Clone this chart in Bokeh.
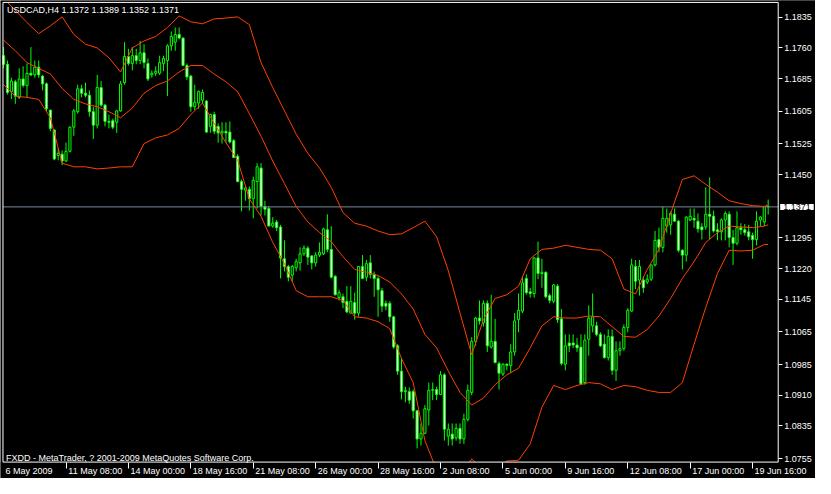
from bokeh.plotting import figure
from bokeh.models import (ColumnDataSource, FixedTicker, PrintfTickFormatter,
                          CustomJSTickFormatter, Label, LinearAxis)
from bokeh.embed import file_html
from bokeh.resources import INLINE

# ---------------- data ----------------
title_text = "USDCAD,H4  1.1372 1.1389 1.1352 1.1371"
footer_text = "FXDD - MetaTrader, ? 2001-2009 MetaQuotes Software Corp."
last_price = 1.1371

opens = [
    1.1741, 1.1720, 1.1653, 1.1677, 1.1639, 1.1684, 1.1668, 1.1698, 1.1694, 1.1713,
    1.1691, 1.1672, 1.1608, 1.1559, 1.1497, 1.1500, 1.1483, 1.1507, 1.1566, 1.1604,
    1.1660, 1.1649, 1.1644, 1.1604, 1.1571, 1.1663, 1.1620, 1.1580, 1.1582, 1.1578,
    1.1606, 1.1675, 1.1739, 1.1722, 1.1741, 1.1729, 1.1748, 1.1722, 1.1694, 1.1698,
    1.1698, 1.1722, 1.1729, 1.1765, 1.1774, 1.1793, 1.1784, 1.1717, 1.1691, 1.1616,
    1.1625, 1.1632, 1.1630, 1.1568, 1.1597, 1.1568, 1.1552, 1.1556, 1.1554, 1.1533,
    1.1495, 1.1433, 1.1412, 1.1414, 1.1391, 1.1433, 1.1466, 1.1372, 1.1367, 1.1324,
    1.1334, 1.1322, 1.1244, 1.1225, 1.1204, 1.1222, 1.1234, 1.1256, 1.1270, 1.1251,
    1.1234, 1.1253, 1.1256, 1.1315, 1.1267, 1.1201, 1.1149, 1.1151, 1.1140, 1.1111,
    1.1137, 1.1111, 1.1225, 1.1199, 1.1234, 1.1206, 1.1196, 1.1166, 1.1135, 1.1135,
    1.1102, 1.1031, 1.0969, 1.0919, 1.0919, 1.0919, 1.0872, 1.0803, 1.0817, 1.0874,
    1.0922, 1.0924, 1.0912, 1.0960, 1.0810, 1.0815, 1.0806, 1.0829, 1.0803, 1.0851,
    1.0917, 1.1042, 1.1099, 1.1087, 1.1135, 1.1028, 1.1042, 1.0988, 1.0962, 1.0986,
    1.0983, 1.1016, 1.1095, 1.1116, 1.1196, 1.1163, 1.1159, 1.1246, 1.1208, 1.1211,
    1.1154, 1.1140, 1.1177, 1.1097, 1.0986, 1.1038, 1.1038, 1.1033, 1.1028, 1.0941,
    1.1047, 1.1080, 1.1080, 1.1059, 1.1035, 1.1002, 1.1054, 1.0971, 1.1019, 1.1024,
    1.1076, 1.1116, 1.1225, 1.1192, 1.1192, 1.1187, 1.1194, 1.1229, 1.1291, 1.1272,
    1.1324, 1.1327, 1.1353, 1.1336, 1.1265, 1.1253, 1.1339, 1.1343, 1.1336, 1.1322,
    1.1322, 1.1353, 1.1348, 1.1315, 1.1310, 1.1339, 1.1353, 1.1296, 1.1282, 1.1320,
    1.1315, 1.1310, 1.1301, 1.1291, 1.1339, 1.1334, 1.1372,
]
highs = [
    1.1762, 1.1729, 1.1687, 1.1682, 1.1710, 1.1715, 1.1722, 1.1762, 1.1729, 1.1729,
    1.1694, 1.1675, 1.1608, 1.1561, 1.1514, 1.1509, 1.1528, 1.1568, 1.1611, 1.1670,
    1.1670, 1.1675, 1.1656, 1.1616, 1.1694, 1.1679, 1.1623, 1.1597, 1.1587, 1.1608,
    1.1679, 1.1774, 1.1758, 1.1762, 1.1758, 1.1777, 1.1769, 1.1734, 1.1705, 1.1715,
    1.1741, 1.1741, 1.1769, 1.1800, 1.1810, 1.1810, 1.1786, 1.1722, 1.1694, 1.1670,
    1.1656, 1.1658, 1.1632, 1.1599, 1.1604, 1.1575, 1.1578, 1.1578, 1.1580, 1.1537,
    1.1500, 1.1438, 1.1421, 1.1421, 1.1445, 1.1478, 1.1478, 1.1386, 1.1372, 1.1346,
    1.1339, 1.1327, 1.1289, 1.1229, 1.1229, 1.1244, 1.1272, 1.1277, 1.1275, 1.1253,
    1.1260, 1.1284, 1.1320, 1.1353, 1.1324, 1.1204, 1.1168, 1.1159, 1.1177, 1.1177,
    1.1161, 1.1225, 1.1253, 1.1241, 1.1253, 1.1213, 1.1201, 1.1173, 1.1142, 1.1140,
    1.1104, 1.1035, 1.1002, 1.0931, 1.0929, 1.0924, 1.0874, 1.0841, 1.0886, 1.0941,
    1.0941, 1.0931, 1.0969, 1.0964, 1.0841, 1.0841, 1.0841, 1.0841, 1.0865, 1.0936,
    1.1052, 1.1102, 1.1142, 1.1142, 1.1142, 1.1156, 1.1097, 1.0993, 1.0988, 1.0988,
    1.1035, 1.1111, 1.1159, 1.1201, 1.1206, 1.1173, 1.1248, 1.1286, 1.1244, 1.1213,
    1.1159, 1.1182, 1.1182, 1.1121, 1.1059, 1.1059, 1.1059, 1.1050, 1.1059, 1.1059,
    1.1130, 1.1159, 1.1090, 1.1064, 1.1059, 1.1071, 1.1071, 1.1042, 1.1042, 1.1083,
    1.1123, 1.1244, 1.1241, 1.1241, 1.1201, 1.1206, 1.1229, 1.1312, 1.1320, 1.1372,
    1.1367, 1.1360, 1.1367, 1.1339, 1.1267, 1.1348, 1.1367, 1.1367, 1.1355, 1.1331,
    1.1419, 1.1443, 1.1362, 1.1331, 1.1343, 1.1360, 1.1360, 1.1315, 1.1360, 1.1331,
    1.1329, 1.1327, 1.1308, 1.1360, 1.1348, 1.1372, 1.1389,
]
lows = [
    1.1710, 1.1646, 1.1635, 1.1623, 1.1635, 1.1663, 1.1639, 1.1691, 1.1687, 1.1687,
    1.1656, 1.1604, 1.1556, 1.1485, 1.1485, 1.1473, 1.1481, 1.1504, 1.1545, 1.1599,
    1.1639, 1.1639, 1.1592, 1.1537, 1.1563, 1.1616, 1.1568, 1.1563, 1.1561, 1.1552,
    1.1604, 1.1670, 1.1717, 1.1705, 1.1720, 1.1720, 1.1710, 1.1679, 1.1687, 1.1691,
    1.1694, 1.1703, 1.1642, 1.1753, 1.1753, 1.1781, 1.1715, 1.1682, 1.1604, 1.1608,
    1.1611, 1.1623, 1.1552, 1.1552, 1.1549, 1.1528, 1.1526, 1.1528, 1.1526, 1.1490,
    1.1431, 1.1360, 1.1386, 1.1362, 1.1343, 1.1367, 1.1350, 1.1350, 1.1324, 1.1320,
    1.1312, 1.1196, 1.1213, 1.1189, 1.1189, 1.1213, 1.1215, 1.1251, 1.1229, 1.1218,
    1.1225, 1.1248, 1.1253, 1.1260, 1.1196, 1.1154, 1.1142, 1.1123, 1.1111, 1.1111,
    1.1095, 1.1102, 1.1194, 1.1189, 1.1196, 1.1151, 1.1102, 1.1114, 1.1118, 1.1090,
    1.1024, 1.0960, 1.0900, 1.0893, 1.0889, 1.0853, 1.0780, 1.0787, 1.0815, 1.0836,
    1.0898, 1.0898, 1.0910, 1.0799, 1.0787, 1.0787, 1.0799, 1.0791, 1.0791, 1.0846,
    1.0910, 1.1031, 1.1083, 1.1078, 1.1016, 1.1024, 1.0988, 1.0924, 1.0957, 1.0971,
    1.0964, 1.1007, 1.1064, 1.1111, 1.1156, 1.1149, 1.1149, 1.1194, 1.1173, 1.1147,
    1.1135, 1.1135, 1.1087, 1.0983, 1.0971, 1.1016, 1.1026, 1.1016, 1.0936, 1.0936,
    1.1007, 1.1064, 1.1054, 1.1028, 1.1000, 1.0995, 1.0960, 1.0945, 1.1007, 1.1019,
    1.1064, 1.1114, 1.1170, 1.1154, 1.1161, 1.1182, 1.1189, 1.1225, 1.1260, 1.1260,
    1.1308, 1.1303, 1.1336, 1.1260, 1.1218, 1.1237, 1.1336, 1.1320, 1.1308, 1.1291,
    1.1315, 1.1291, 1.1308, 1.1289, 1.1289, 1.1289, 1.1272, 1.1229, 1.1277, 1.1303,
    1.1301, 1.1289, 1.1244, 1.1277, 1.1324, 1.1324, 1.1352,
]
closes = [
    1.1720, 1.1651, 1.1679, 1.1642, 1.1684, 1.1668, 1.1698, 1.1694, 1.1713, 1.1694,
    1.1672, 1.1611, 1.1563, 1.1488, 1.1502, 1.1483, 1.1507, 1.1566, 1.1606, 1.1660,
    1.1649, 1.1644, 1.1604, 1.1571, 1.1663, 1.1620, 1.1580, 1.1578, 1.1566, 1.1606,
    1.1672, 1.1739, 1.1722, 1.1741, 1.1729, 1.1748, 1.1724, 1.1684, 1.1698, 1.1703,
    1.1724, 1.1734, 1.1765, 1.1788, 1.1793, 1.1784, 1.1717, 1.1689, 1.1616, 1.1627,
    1.1653, 1.1651, 1.1554, 1.1597, 1.1556, 1.1552, 1.1556, 1.1552, 1.1530, 1.1492,
    1.1433, 1.1414, 1.1417, 1.1391, 1.1436, 1.1469, 1.1372, 1.1365, 1.1324, 1.1331,
    1.1320, 1.1246, 1.1225, 1.1199, 1.1225, 1.1237, 1.1256, 1.1270, 1.1248, 1.1234,
    1.1253, 1.1260, 1.1317, 1.1267, 1.1199, 1.1156, 1.1161, 1.1137, 1.1114, 1.1140,
    1.1111, 1.1225, 1.1196, 1.1232, 1.1206, 1.1196, 1.1168, 1.1128, 1.1128, 1.1102,
    1.1028, 1.0969, 1.0919, 1.0922, 1.0898, 1.0872, 1.0803, 1.0817, 1.0877, 1.0922,
    1.0924, 1.0912, 1.0960, 1.0827, 1.0827, 1.0803, 1.0829, 1.0803, 1.0851, 1.0922,
    1.1042, 1.1099, 1.1092, 1.1135, 1.1031, 1.1042, 1.0990, 1.0964, 1.0986, 1.0983,
    1.1016, 1.1092, 1.1118, 1.1185, 1.1161, 1.1159, 1.1246, 1.1208, 1.1211, 1.1151,
    1.1142, 1.1180, 1.1095, 1.0988, 1.1031, 1.1031, 1.1033, 1.1026, 1.0938, 1.1045,
    1.1099, 1.1102, 1.1059, 1.1031, 1.1002, 1.1054, 1.0971, 1.1019, 1.1024, 1.1076,
    1.1118, 1.1229, 1.1189, 1.1225, 1.1173, 1.1194, 1.1229, 1.1289, 1.1272, 1.1343,
    1.1343, 1.1355, 1.1336, 1.1265, 1.1253, 1.1346, 1.1348, 1.1339, 1.1317, 1.1315,
    1.1353, 1.1348, 1.1312, 1.1310, 1.1339, 1.1355, 1.1296, 1.1282, 1.1320, 1.1315,
    1.1308, 1.1298, 1.1291, 1.1336, 1.1346, 1.1372, 1.1371,
]

# Bollinger bands, read every third bar (plus the last bar)
band_index = list(range(0, 196, 3)) + [196]
band_upper = [
    1.1881, 1.1852, 1.1822, 1.1795, 1.1814, 1.1836, 1.1793, 1.1769, 1.1760, 1.1736,
    1.1701, 1.1760, 1.1777, 1.1788, 1.1810, 1.1838, 1.1824, 1.1819, 1.1831, 1.1833,
    1.1836, 1.1817, 1.1724, 1.1663, 1.1606, 1.1549, 1.1502, 1.1466, 1.1419, 1.1357,
    1.1331, 1.1324, 1.1312, 1.1303, 1.1305, 1.1320, 1.1336, 1.1298, 1.1215, 1.1111,
    1.1009, 1.1095, 1.1147, 1.1156, 1.1177, 1.1244, 1.1267, 1.1270, 1.1277, 1.1272,
    1.1267, 1.1265, 1.1244, 1.1170, 1.1158, 1.1218, 1.1267, 1.1355, 1.1438, 1.1447,
    1.1426, 1.1407, 1.1386, 1.1379, 1.1374, 1.1372, 1.1376,
]
band_middle = [
    1.1779, 1.1753, 1.1724, 1.1710, 1.1696, 1.1661, 1.1634, 1.1623, 1.1616, 1.1604,
    1.1589, 1.1613, 1.1649, 1.1668, 1.1679, 1.1701, 1.1717, 1.1717, 1.1696, 1.1677,
    1.1653, 1.1599, 1.1544, 1.1483, 1.1428, 1.1372, 1.1334, 1.1308, 1.1286, 1.1249,
    1.1218, 1.1211, 1.1203, 1.1187, 1.1158, 1.1121, 1.1059, 1.1026, 1.0969, 1.0917,
    1.0886, 1.0903, 1.0936, 1.0960, 1.0976, 1.1026, 1.1080, 1.1102, 1.1099, 1.1099,
    1.1104, 1.1102, 1.1078, 1.1054, 1.1052, 1.1071, 1.1104, 1.1147, 1.1196, 1.1237,
    1.1284, 1.1308, 1.1324, 1.1322, 1.1320, 1.1324, 1.1327,
]
band_lower = [
    1.1670, 1.1642, 1.1639, 1.1634, 1.1589, 1.1478, 1.1469, 1.1469, 1.1464, 1.1466,
    1.1469, 1.1469, 1.1526, 1.1540, 1.1547, 1.1563, 1.1597, 1.1625, 1.1575, 1.1528,
    1.1485, 1.1391, 1.1348, 1.1284, 1.1232, 1.1166, 1.1151, 1.1151, 1.1151, 1.1142,
    1.1102, 1.1099, 1.1090, 1.1073, 1.1000, 1.0941, 1.0799, 1.0727, 1.0704, 1.0711,
    1.0754, 1.0727, 1.0730, 1.0749, 1.0751, 1.0791, 1.0881, 1.0934, 1.0924, 1.0934,
    1.0941, 1.0938, 1.0924, 1.0934, 1.0931, 1.0922, 1.0917, 1.0917, 1.0941, 1.1035,
    1.1125, 1.1208, 1.1265, 1.1263, 1.1265, 1.1279, 1.1279,
]

price_ticks = [1.1835, 1.1760, 1.1685, 1.1605, 1.1525, 1.1450, 1.1295,
               1.1220, 1.1145, 1.1065, 1.0985, 1.0910, 1.0835, 1.0755]
time_ticks = [0, 16, 32, 48, 64, 80, 96, 112, 128, 144, 160, 176, 192]
time_labels = ["6 May 2009", "11 May 08:00", "14 May 00:00", "18 May 16:00",
               "21 May 08:00", "26 May 00:00", "28 May 16:00", "2 Jun 08:00",
               "5 Jun 00:00", "9 Jun 16:00", "12 Jun 08:00", "17 Jun 00:00",
               "19 Jun 16:00"]

# ---------------- layout / style ----------------
BG = "black"
FG = "white"
CANDLE = "#00ff00"
BAND = "#ff4000"
BIDLINE = "#778899"
FONT = "Liberation Sans"
FS = "9px"
FS_PX = 9

W, H = 815, 478
PX_PER_BAR = 3.901
# whole-canvas data window
XL, XR = -0.792, -0.792 + W / PX_PER_BAR
YT = 1.1876
YB = YT - H * 0.0002447
# chart border (inside the window)
X0, X1 = -0.16, 198.57
Y0, Y1 = 1.07465, 1.18713

p = figure(width=W, height=H, x_range=(XL, XR), y_range=(YB, YT),
           output_backend="svg", toolbar_location=None, y_axis_location="right",
           min_border=0, background_fill_color=BG, border_fill_color=BG,
           outline_line_color=None)
p.grid.visible = False

# candles
n = len(closes)
src = ColumnDataSource(dict(
    x=list(range(n)), high=highs, low=lows,
    top=[max(o, c) for o, c in zip(opens, closes)],
    bottom=[min(o, c) for o, c in zip(opens, closes)],
    fill=["black" if c >= o else "white" for o, c in zip(opens, closes)],
))
p.segment(x0="x", y0="high", x1="x", y1="low", source=src,
          line_color=CANDLE, line_width=1)
p.vbar(x="x", width=0.55, top="top", bottom="bottom", source=src,
       fill_color="fill", line_color=CANDLE, line_width=1)

# bid line
p.segment(x0=[X0], y0=[last_price], x1=[X1], y1=[last_price],
          line_color=BIDLINE, line_width=1)

# Bollinger bands
for band in (band_upper, band_middle, band_lower):
    p.line(band_index, band, line_color=BAND, line_width=1)

# mask everything outside the chart border, then draw the border
p.quad(left=[X1, XL, XL], right=[XR, XR, XR], bottom=[YB, YB, Y1],
       top=[YT, Y0, YT], fill_color=BG, line_color=None)
p.quad(left=[X0], right=[X1], bottom=[Y0], top=[Y1],
       fill_color=None, line_color=FG, line_width=1)

# right price axis, drawn along the chart's right border
ya = p.yaxis[0]
ya.fixed_location = X1
ya.bounds = (Y0, Y1)
ya.ticker = FixedTicker(ticks=price_ticks)
ya.formatter = PrintfTickFormatter(format="%.4f")
ya.axis_line_color = None
ya.major_tick_line_color = FG
ya.major_tick_out = 4
ya.major_tick_in = 0
ya.minor_tick_line_color = None
ya.minor_tick_out = 0
ya.major_label_text_color = FG
ya.major_label_text_font = FONT
ya.major_label_text_font_size = FS
ya.major_label_standoff = 2

# bottom time axis, part 1: the tick marks at the bars
xa = p.xaxis[0]
xa.fixed_location = Y0
xa.ticker = FixedTicker(ticks=time_ticks[1:])
xa.axis_line_color = None
xa.major_tick_line_color = FG
xa.major_tick_out = 6
xa.major_tick_in = 0
xa.minor_tick_line_color = None
xa.minor_tick_out = 0
xa.major_label_text_color = None
xa.major_label_text_font_size = FS


# bottom time axis, part 2: labels that start just after each tick mark
def text_width(s):
    em = {" ": 278, ":": 278, "M": 833, "J": 500, "y": 500}
    return sum(em.get(ch, 556) for ch in s) * FS_PX / 1000.0


label_pos = [t + (2 + text_width(s) / 2) / PX_PER_BAR
             for t, s in zip(time_ticks, time_labels)]
xl = LinearAxis(fixed_location=Y0,
                ticker=FixedTicker(ticks=label_pos),
                formatter=CustomJSTickFormatter(
                    args=dict(pos=label_pos, labels=time_labels),
                    code="""
                    let best = 0;
                    for (let i = 1; i < pos.length; i++) {
                        if (Math.abs(pos[i] - tick) < Math.abs(pos[best] - tick)) best = i;
                    }
                    return labels[best];
                    """),
                axis_line_color=None, major_tick_line_color=None,
                minor_tick_line_color=None, major_tick_out=0, major_tick_in=0,
                minor_tick_out=0, minor_tick_in=0,
                major_label_standoff=4, major_label_text_color=FG,
                major_label_text_font=FONT, major_label_text_font_size=FS)
p.add_layout(xl, "below")

# texts
p.add_layout(Label(x=X0, y=Y1, x_offset=4, y_offset=-3, text=title_text,
                   text_baseline="top", text_align="left", text_color=FG,
                   text_font=FONT, text_font_size=FS))
p.add_layout(Label(x=X0, y=Y0, x_offset=3, y_offset=4, text=footer_text,
                   text_baseline="alphabetic", text_align="left", text_color=FG,
                   text_font=FONT, text_font_size=FS))
p.add_layout(Label(x=X1, y=last_price, x_offset=2, y_offset=0,
                   text=f"{last_price:.4f}", text_baseline="middle",
                   text_align="left", text_color="black",
                   background_fill_color="white",
                   padding=dict(left=3, right=3, top=0, bottom=0),
                   text_font=FONT, text_font_size=FS))

open("out.html", "w").write(file_html(p, INLINE))
